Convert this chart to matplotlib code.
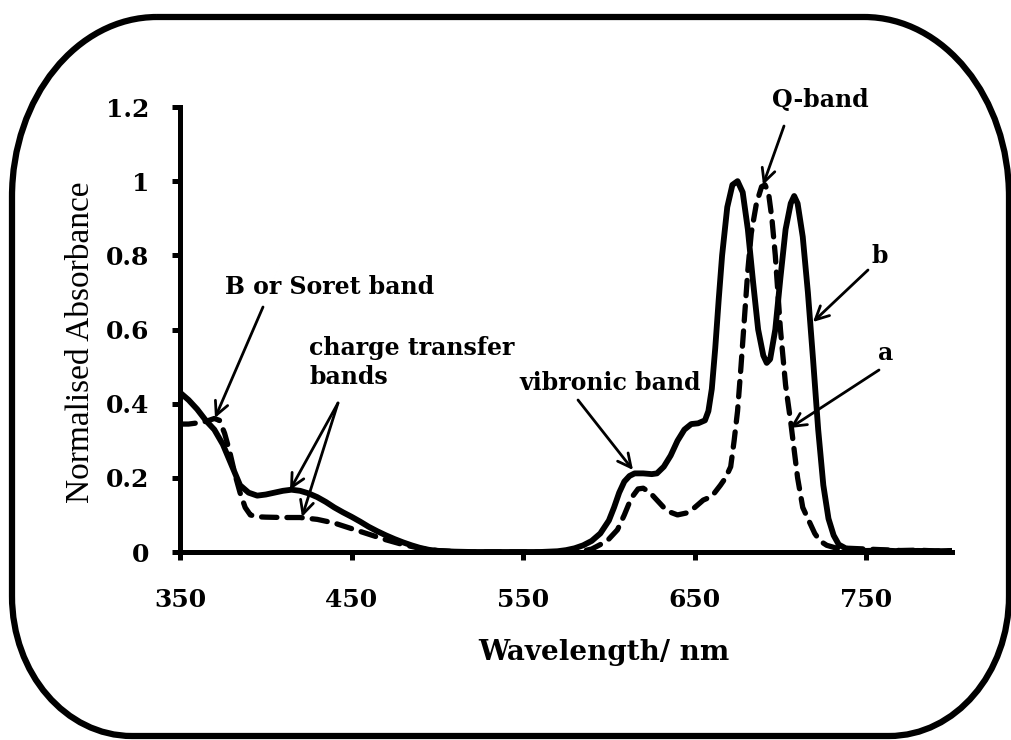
import matplotlib
matplotlib.use("Agg")
import matplotlib.pyplot as plt
from matplotlib.path import Path
from matplotlib.patches import PathPatch
from matplotlib.font_manager import FontProperties

# ---------------- data ----------------
wl_b = [350, 355, 360, 365, 370, 375, 380, 385, 390, 395, 400, 405, 410, 415, 420,
        425, 430, 435, 440, 445, 450, 455, 460, 465, 470, 475, 480, 485, 490, 495,
        500, 510, 520, 530, 540, 550, 560, 570, 575, 580, 585, 590, 595, 600, 603,
        606, 609, 612, 615, 620, 625, 628, 632, 636, 640, 644, 648, 652, 656, 658,
        660, 662, 664, 666, 669, 672, 675, 678, 681, 684, 687, 690, 692, 694, 697,
        700, 703, 706, 708, 710, 713, 716, 719, 722, 725, 728, 731, 734, 738, 742,
        750, 760, 770, 780, 790, 800]
abs_b = [0.43, 0.41, 0.385, 0.355, 0.33, 0.29, 0.235, 0.18, 0.16, 0.152, 0.155, 0.16, 0.165, 0.168, 0.165,
         0.158, 0.148, 0.135, 0.12, 0.107, 0.095, 0.082, 0.068, 0.056, 0.045, 0.035, 0.026, 0.018, 0.011, 0.006,
         0.003, 0.001, 0.0, 0.0, 0.0, 0.0, 0.0, 0.002, 0.005, 0.01, 0.018, 0.03, 0.05, 0.085, 0.12,
         0.16, 0.19, 0.205, 0.212, 0.212, 0.21, 0.212, 0.23, 0.26, 0.3, 0.33, 0.345, 0.347, 0.355, 0.38,
         0.44, 0.55, 0.68, 0.8, 0.93, 0.99, 1.0, 0.97, 0.87, 0.73, 0.6, 0.53, 0.51, 0.52, 0.6,
         0.74, 0.87, 0.94, 0.96, 0.94, 0.85, 0.7, 0.52, 0.33, 0.18, 0.09, 0.045, 0.02, 0.01, 0.005,
         0.003, 0.004, 0.002, 0.003, 0.002, 0.003]

wl_a = [350, 355, 360, 365, 370, 373, 376, 379, 382, 385, 388, 391, 395, 400, 410,
        420, 430, 440, 450, 460, 470, 480, 490, 500, 510, 520, 540, 560, 580, 585,
        590, 595, 600, 605, 609, 613, 617, 620, 624, 628, 632, 636, 640, 645, 650,
        655, 660, 665, 668, 671, 673, 675, 677, 679, 681, 683, 686, 689, 691, 693,
        695, 697, 700, 703, 706, 710, 713, 716, 720, 723, 727, 733, 740, 750, 760,
        770, 780, 790, 800]
abs_a = [0.345, 0.345, 0.348, 0.352, 0.36, 0.355, 0.32, 0.27, 0.21, 0.16, 0.12, 0.1, 0.095, 0.094, 0.093,
         0.093, 0.088, 0.078, 0.063, 0.048, 0.033, 0.02, 0.01, 0.004, 0.001, 0.0, 0.0, 0.0, 0.0, 0.003,
         0.008, 0.02, 0.035, 0.06, 0.1, 0.145, 0.17, 0.172, 0.16, 0.14, 0.12, 0.107, 0.1, 0.105, 0.12,
         0.14, 0.15, 0.18, 0.2, 0.23, 0.3, 0.38, 0.5, 0.63, 0.76, 0.86, 0.94, 0.985, 0.99, 0.97,
         0.9, 0.8, 0.6, 0.45, 0.35, 0.2, 0.12, 0.09, 0.05, 0.03, 0.018, 0.01, 0.01, 0.008, 0.006,
         0.004, 0.005, 0.003, 0.003]

x_ticks = [350, 450, 550, 650, 750]
y_ticks = [0, 0.2, 0.4, 0.6, 0.8, 1.0, 1.2]
y_tick_labels = ["0", "0.2", "0.4", "0.6", "0.8", "1", "1.2"]

# ---------------- figure ----------------
W, H = 1012, 740
fig = plt.figure(figsize=(W / 100, H / 100), dpi=100)

# background rounded frame (pixel coordinates, y downward)
bg = fig.add_axes([0, 0, 1, 1], zorder=0)
bg.set_xlim(0, W)
bg.set_ylim(H, 0)
bg.axis("off")

fx0, fx1, fy0, fy1 = 12, 1009, 17, 736
k = 0.5523
rtx, rty = 145, 180   # top corners
rbx, rby = 120, 140   # bottom corners
verts = [
    (fx0 + rtx, fy0), (fx1 - rtx, fy0),
    (fx1 - rtx + k * rtx, fy0), (fx1, fy0 + rty - k * rty), (fx1, fy0 + rty),
    (fx1, fy1 - rby),
    (fx1, fy1 - rby + k * rby), (fx1 - rbx + k * rbx, fy1), (fx1 - rbx, fy1),
    (fx0 + rbx, fy1),
    (fx0 + rbx - k * rbx, fy1), (fx0, fy1 - rby + k * rby), (fx0, fy1 - rby),
    (fx0, fy0 + rty),
    (fx0, fy0 + rty - k * rty), (fx0 + rtx - k * rtx, fy0), (fx0 + rtx, fy0),
]
codes = [Path.MOVETO, Path.LINETO,
         Path.CURVE4, Path.CURVE4, Path.CURVE4,
         Path.LINETO,
         Path.CURVE4, Path.CURVE4, Path.CURVE4,
         Path.LINETO,
         Path.CURVE4, Path.CURVE4, Path.CURVE4,
         Path.LINETO,
         Path.CURVE4, Path.CURVE4, Path.CURVE4]
bg.add_patch(PathPatch(Path(verts, codes), lw=4.5, ec="black", fc="white", joinstyle="round"))

x0px, x1px, y0px, y1px = 180, 952, 552, 107
ax = fig.add_axes([x0px / W, 1 - y0px / H, (x1px - x0px) / W, (y0px - y1px) / H], zorder=2)
ax.patch.set_alpha(0)

ax.plot(wl_b, abs_b, color="black", lw=4.2, solid_joinstyle="round", solid_capstyle="round", zorder=3)
ax.plot(wl_a, abs_a, color="black", lw=3.8, linestyle=(0, (2.9, 1.9)),
        dash_capstyle="round", dash_joinstyle="round", zorder=3)

ax.set_xlim(350, 800)
ax.set_ylim(0, 1.2)
for s in ["top", "right"]:
    ax.spines[s].set_visible(False)
for s in ["left", "bottom"]:
    ax.spines[s].set_linewidth(3.6)
ax.set_xticks(x_ticks)
ax.set_yticks(y_ticks)
ax.set_yticklabels(y_tick_labels)
tick_fp = FontProperties(family="DejaVu Serif", weight="bold", size=18)
for lab in ax.get_xticklabels() + ax.get_yticklabels():
    lab.set_fontproperties(tick_fp)
ax.tick_params(axis="x", direction="out", length=6, width=3.6, pad=20)
ax.tick_params(axis="y", direction="out", length=6, width=3.6, pad=16)

fig.text(81 / W, 1 - 342 / H, "Normalised Absorbance", rotation=90, ha="center", va="center",
         family="Liberation Serif", size=24)
fig.text(604 / W, 1 - 653 / H, "Wavelength/ nm", ha="center", va="center",
         family="DejaVu Serif", weight="bold", size=20)


def px2d(px, py):
    return (350 + (px - x0px) / (x1px - x0px) * 450, (y0px - py) / (y0px - y1px) * 1.2)


ann_font = dict(family="DejaVu Serif", weight="bold", size=17)
arrow = dict(arrowstyle="->", lw=2.0, color="black", mutation_scale=24, shrinkA=0, shrinkB=0)


def label(text, tx, ty, ha="center"):
    ax.text(*px2d(tx, ty), text, ha=ha, va="center", clip_on=False, **ann_font)


def arr(tail, head):
    ax.annotate("", xy=px2d(*head), xytext=px2d(*tail), arrowprops=arrow, annotation_clip=False)


label("Q-band", 820, 100)
arr((784, 126), (763, 185))
label("b", 880, 256)
arr((868, 270), (813, 322))
label("a", 886, 353)
arr((879, 370), (790, 428))
label("vibronic band", 610, 383)
arr((578, 400), (633, 470))
label("B or Soret band", 330, 287)
arr((263, 307), (215, 418))
label("charge transfer", 309, 348, ha="left")
label("bands", 309, 377, ha="left")
arr((338, 403), (290, 490))
arr((338, 403), (302, 517))

fig.savefig("out.png", dpi=100)
